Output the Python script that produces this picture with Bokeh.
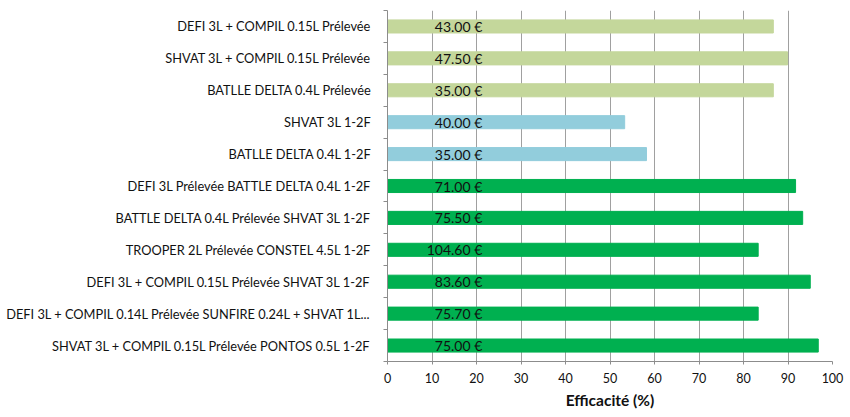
from bokeh.plotting import figure
from bokeh.models import ColumnDataSource, FixedTicker, Range1d
from bokeh.core.properties import value
from bokeh.embed import file_html
from bokeh.resources import INLINE

categories = [
    "DEFI 3L + COMPIL 0.15L Prélevée",
    "SHVAT 3L + COMPIL 0.15L Prélevée",
    "BATLLE DELTA 0.4L Prélevée",
    "SHVAT 3L 1-2F",
    "BATLLE DELTA 0.4L 1-2F",
    "DEFI 3L Prélevée BATTLE DELTA 0.4L 1-2F",
    "BATTLE DELTA 0.4L Prélevée SHVAT 3L 1-2F",
    "TROOPER 2L Prélevée CONSTEL 4.5L 1-2F",
    "DEFI 3L + COMPIL 0.15L Prélevée SHVAT 3L 1-2F",
    "DEFI 3L + COMPIL 0.14L Prélevée SUNFIRE 0.24L + SHVAT 1L...",
    "SHVAT 3L + COMPIL 0.15L Prélevée PONTOS 0.5L 1-2F",
]
efficacite = [86.7, 89.9, 86.7, 53.3, 58.2, 91.7, 93.3, 83.3, 95.0, 83.3, 96.8]
couts = ["43.00 €", "47.50 €", "35.00 €", "40.00 €", "35.00 €", "71.00 €",
         "75.50 €", "104.60 €", "83.60 €", "75.70 €", "75.00 €"]
groupes = ["pre", "pre", "pre", "post", "post", "mix", "mix", "mix", "mix", "mix", "mix"]
x_ticks = [0, 10, 20, 30, 40, 50, 60, 70, 80, 90, 100]

palette = {"pre": "#C4D79B", "post": "#92CDDC", "mix": "#00B050"}

n = len(categories)
ys = [n - i - 0.5 for i in range(n)]
src = ColumnDataSource(dict(
    y=ys, v=efficacite, lab=couts,
    color=[palette[g] for g in groupes],
    lx=[21.3] * n,
))

FONT = "Lato"
p = figure(width=850, height=417, output_backend="svg", toolbar_location=None,
           x_range=Range1d(0, 100), y_range=Range1d(0, n))
p.min_border_left = 387
p.min_border_right = 18
p.min_border_top = 10
p.min_border_bottom = 56
p.outline_line_color = None
p.background_fill_color = "white"
p.border_fill_color = "white"

p.hbar(y="y", right="v", left=0, height=0.41, color="color", source=src)
p.text(x="lx", y="y", text="lab", source=src, text_align="right",
       text_baseline="middle", text_font=value(FONT), text_font_size="14px",
       text_color="#111111")

# x axis
p.xaxis.ticker = FixedTicker(ticks=x_ticks)
p.xaxis.axis_label = "Efficacité (%)"
p.xaxis.axis_label_text_font = FONT
p.xaxis.axis_label_text_font_style = "bold"
p.xaxis.axis_label_text_font_size = "15.5px"
p.xaxis.axis_label_text_color = "#111111"
p.xaxis.axis_label_standoff = 5
p.xaxis.major_label_text_font = FONT
p.xaxis.major_label_text_font_size = "12.5px"
p.xaxis.major_label_text_color = "#111111"
p.xaxis.major_label_standoff = 8
p.xaxis.axis_line_color = "#8c8c8c"
p.xaxis.major_tick_line_color = "#8c8c8c"
p.xaxis.major_tick_out = 3
p.xaxis.major_tick_in = 0
p.xaxis.minor_tick_line_color = None

p.xgrid.ticker = FixedTicker(ticks=x_ticks)
p.xgrid.grid_line_color = "#a0a0a0"
p.xgrid.grid_line_width = 1
p.ygrid.grid_line_color = None

# y axis: labels at centers, tick marks at category boundaries
p.yaxis.ticker = FixedTicker(ticks=ys, minor_ticks=[float(i) for i in range(n + 1)])
p.yaxis.major_label_overrides = {y: c for y, c in zip(ys, categories)}
p.yaxis.major_label_text_font = FONT
p.yaxis.major_label_text_font_size = "12.8px"
p.yaxis.major_label_text_color = "#111111"
p.yaxis.major_label_standoff = 12
p.yaxis.major_tick_out = 0
p.yaxis.major_tick_in = 0
p.yaxis.minor_tick_out = 4
p.yaxis.minor_tick_in = 0
p.yaxis.minor_tick_line_color = "#8c8c8c"
p.yaxis.axis_line_color = "#8c8c8c"

open("out.html", "w").write(file_html(p, INLINE))
